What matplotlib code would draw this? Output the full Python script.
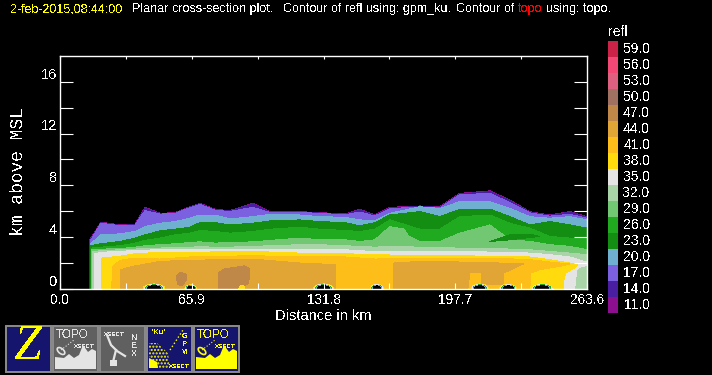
import matplotlib
matplotlib.use('Agg')
import matplotlib.pyplot as plt
from matplotlib.patches import Ellipse, Rectangle, Polygon

plt.rcParams['text.antialiased'] = False
plt.rcParams['font.family'] = ['Liberation Sans', 'DejaVu Sans']
plt.rcParams['hatch.color'] = 'yellow'

# colour table of the reflectivity scale, low to high
levels = [11, 14, 17, 20, 23, 26, 29, 32, 35, 38, 41, 44, 47, 50, 53, 56, 59]
colors = ['#8B0F8F', '#4A1EA0', '#7B60E0', '#6FAFD0', '#138E13', '#1FAA1F', '#72C872', '#A8D4A8',
          '#E4E4E4', '#FFDB0E', '#FDBE1A', '#E0A535', '#C08848', '#A07060', '#DD6080', '#F24875', '#CC2248']

# upper edge (km) of each band, at these distances (km)
dist = [15, 20.5, 30, 37.5, 42.5, 50, 57.5, 65, 70, 77.5, 85, 96.5, 105, 120, 130, 142.5, 150, 157.5,
        165, 180, 190, 200, 215, 225, 235, 245, 255, 263.6]
top11 = [3.72, 5.13, 4.92, 4.97, 6.28, 5.82, 5.87, 6.33, 6.59, 6.13, 6.03, 6.59, 5.95, 5.95, 5.87, 5.77, 6.13, 5.69,
         6.28, 6.39, 6.33, 7.36, 7.56, 6.85, 5.95, 5.69, 5.95, 5.56]
top14 = [3.69, 5.10, 4.89, 4.94, 6.22, 5.79, 5.84, 6.29, 6.55, 6.10, 6.00, 6.55, 5.92, 5.92, 5.84, 5.74, 6.09, 5.65,
         6.24, 6.35, 6.29, 7.32, 7.50, 6.80, 5.90, 5.65, 5.92, 5.52]
top17 = [3.66, 5.05, 4.86, 4.91, 6.02, 5.76, 5.81, 6.26, 6.50, 6.06, 5.96, 6.28, 5.88, 5.89, 5.81, 5.71, 5.92, 5.61,
         6.18, 6.31, 6.25, 7.26, 7.36, 6.66, 5.86, 5.60, 5.74, 5.44]
top20 = [3.46, 4.15, 4.23, 4.41, 4.79, 5.05, 5.18, 5.44, 5.69, 5.69, 5.38, 5.56, 5.74, 5.69, 5.56, 5.51, 5.31, 5.26,
         5.82, 6.33, 6.20, 6.72, 6.72, 6.20, 5.56, 5.44, 5.56, 5.31]
top23 = [3.31, 3.46, 3.64, 3.90, 4.15, 4.46, 4.59, 4.74, 5.10, 5.10, 4.92, 5.05, 5.23, 5.31, 5.18, 5.10, 4.85, 5.10,
         5.69, 5.95, 5.56, 6.13, 6.15, 5.56, 4.92, 5.18, 4.92, 4.67]
top26 = [3.13, 3.20, 3.31, 3.51, 3.72, 3.90, 4.15, 4.28, 4.49, 4.41, 4.28, 4.41, 4.59, 4.74, 4.59, 4.49, 4.41, 4.59,
         5.31, 4.59, 4.59, 5.56, 5.69, 5.05, 4.67, 4.03, 3.90, 3.90]
top29 = [3.00, 3.05, 3.08, 3.20, 3.31, 3.39, 3.46, 3.56, 3.61, 3.51, 3.56, 3.61, 3.72, 3.90, 3.77, 3.77, 3.64, 3.77,
         4.79, 3.64, 3.64, 4.28, 4.92, 3.77, 3.64, 3.39, 3.26, 3.00]
top32 = [2.87, 2.92, 3.00, 3.05, 3.10, 3.13, 3.18, 3.20, 3.23, 3.20, 3.20, 3.26, 3.31, 3.39, 3.39, 3.31, 3.26, 3.20,
         3.26, 3.20, 3.15, 3.13, 3.13, 3.05, 3.00, 2.87, 2.74, 2.62]
top35 = [2.69, 2.80, 2.87, 2.95, 2.97, 3.00, 3.00, 3.00, 3.00, 3.00, 3.00, 3.05, 3.05, 3.00, 3.00, 3.00, 2.92, 2.87,
         2.87, 2.87, 2.87, 2.87, 2.82, 2.80, 2.74, 2.62, 2.44, 2.03]
band_tops = [top11, top14, top17, top20, top23, top26, top29, top32, top35]
band_feet = [14.7, 14.9, 15.1, 15.3, 15.5, 15.7, 16.0, 16.3, 17.5]

# the warmer bands are closed shapes, not reaching the right edge
x38 = [20.8, 21, 30, 37.5, 50, 65, 85, 96.5, 120, 142.5, 157.5, 180, 200, 215, 235, 245, 255, 259, 258, 253, 251.7, 251.7]
y38 = [0, 2.36, 2.49, 2.69, 2.80, 2.80, 2.85, 2.87, 2.74, 2.69, 2.62, 2.54, 2.54, 2.49, 2.44, 2.23, 1.97, 1.90, 1.66, 1.20, 0.50, 0]
x41 = [25.8, 26.5, 30, 37.5, 50, 65, 96.5, 120, 142.5, 157.5, 180, 215, 235, 245, 255, 250, 240, 235.5, 235]
y41 = [0, 1.72, 2.18, 2.36, 2.28, 2.44, 2.54, 2.44, 2.44, 2.28, 2.36, 2.36, 2.23, 2.05, 1.90, 1.72, 1.46, 1.20, 0]
x44a = [30.3, 30.3, 36.7, 50, 65, 80, 96.5, 110, 120, 138, 138]
y44a = [0, 1.46, 1.72, 2.10, 2.18, 2.23, 2.28, 2.10, 1.97, 1.85, 0]
x44b = [166.7, 167, 180, 200, 215, 231.7, 222, 221.7, 211, 211, 205, 204]
y44b = [0, 1.97, 2.10, 2.05, 2.00, 1.90, 1.20, 0.30, 0.30, 1.20, 1.20, 0]
x47a = [58.5, 58.3, 60, 63, 63.3, 61, 59]
y47a = [0.6, 1.0, 1.25, 1.15, 0.7, 0.2, 0.3]
x47b = [79.5, 79.2, 82, 86, 92, 94.5, 95, 94, 90.5]
y47b = [0, 1.2, 1.5, 1.6, 1.75, 1.6, 1.0, 0.4, 0]
# a strip of 23 inside the 26 band, a plateau of 29 and the 32 corner at the right edge
x23s = [215, 225, 235, 240, 235, 225]
y23s = [3.64, 4.15, 4.20, 4.03, 3.95, 3.77]
x29p = [160, 165, 172, 176]
y29p = [3.70, 4.79, 4.60, 3.70]
x32c = [258, 259, 261, 263.6, 263.6]
y32c = [0, 1.4, 1.6, 1.7, 0]

# terrain poking through at the ground: centre, half width (km), height (km)
hill_x = [47, 65.4, 131.7, 158.5, 210, 224.2, 241.2]
hill_w = [5.4, 2.9, 5.0, 3.2, 4.2, 4.2, 5.5]
hill_h = [0.35, 0.28, 0.35, 0.33, 0.35, 0.33, 0.35]
hill_rings = ['#FFDB0E', '#E4E4E4', '#1FAA1F', '#6FAFD0', '#000000']

xtick_minor = [32.95, 98.85, 164.75, 230.65]
xtick_major = [0.0, 65.9, 131.8, 197.7, 263.6]

W, H = 712, 375
fig = plt.figure(figsize=(W / 100, H / 100), dpi=100, facecolor='black')
ax = fig.add_axes([60 / W, (H - 288.5) / H, 527 / W, 232.5 / H], facecolor='black')


def shape(xs, ys, color):
    ax.fill(xs, ys, color=color, lw=0, antialiased=False)


for color, top, foot in zip(colors, band_tops, band_feet):
    shape([foot, foot] + dist[1:] + [dist[-1]], [0] + top + [0], color)
shape(x29p, y29p, colors[6])
shape(x32c, y32c, colors[7])
shape(x38, y38, colors[9])
shape(x41, y41, colors[10])
shape(x44a, y44a, colors[11])
shape(x44b, y44b, colors[11])
shape(x47a, y47a, colors[12])
shape(x47b, y47b, colors[12])
shape(x23s, y23s, colors[4])

for cx, w, h in zip(hill_x, hill_w, hill_h):
    for n, ring in enumerate(hill_rings):
        scale = 1 - n * 0.1
        ax.add_patch(Ellipse((cx, 0), 2 * w * scale, 2 * h * scale, fc=ring, lw=0, antialiased=False))
# small yellow rim without a hole
ax.add_patch(Ellipse((91, 0), 3, 0.45, fc=colors[9], lw=0, antialiased=False))

ax.set_xlim(0, 263.6)
ax.set_ylim(0, 18)
for side in ax.spines.values():
    side.set_color('white')
    side.set_linewidth(1.0)

ax.set_xticks(xtick_major)
ax.set_xticklabels(['%.1f' % v for v in xtick_major], color='white', fontsize=9.8)
ax.set_xticks(xtick_minor, minor=True)
ax.set_yticks([0, 4, 8, 12, 16])
ax.set_yticklabels(['0', '4', '8', '12', '16'], color='white', fontsize=10.5, va='bottom')
ax.set_yticks([2, 6, 10, 14], minor=True)
ax.tick_params(axis='x', which='both', direction='in', length=4.3, width=0.8, color='white', pad=3.2)
ax.tick_params(axis='y', which='both', direction='in', length=9.4, width=0.8, color='white',
               left=True, right=True, pad=2)
top_axis = ax.secondary_xaxis('top')
top_axis.set_xticks(xtick_major + xtick_minor)
top_axis.set_xticklabels([])
top_axis.tick_params(direction='in', length=2.2, width=0.8, color='white')
top_axis.spines['top'].set_visible(False)
ax.set_xlabel('Distance in km', color='white', fontsize=10.5, labelpad=1.5)

# overlay in pixel coordinates for the title, colour key and icons
over = fig.add_axes([0, 0, 1, 1], facecolor='none')
over.set_xlim(0, W)
over.set_ylim(H, 0)
over.axis('off')

over.text(19, 172, 'km above MSL', rotation=90, color='white', family='Liberation Mono',
          fontsize=13, ha='center', va='center')

title_parts = [(10, '2-feb-2015,08:44:00', 'yellow'), (132, 'Planar cross-section plot.', 'white'),
               (283, 'Contour of refl using: gpm_ku.', 'white'), (456, 'Contour of', 'white'),
               (518, 'topo', 'red'), (546, 'using: topo.', 'white')]
for px, part, col in title_parts:
    over.text(px, 9, part, color=col, fontsize=9, ha='left', va='center')

# colour key
over.text(608, 32, 'refl', color='white', fontsize=10, ha='left', va='center')
key_ax = fig.add_axes([608 / W, (H - 313) / H, 10 / W, 272 / H], facecolor='black')
key_ax.bar([0] * len(levels), [1] * len(levels), bottom=list(range(len(levels))), width=1, color=colors,
           antialiased=False, lw=0)
key_ax.set_xlim(-0.5, 0.5)
key_ax.set_ylim(0, len(levels))
key_ax.axis('off')
for i, lev in enumerate(levels):
    over.text(650, 313 - 16 * i - 8, '%.1f' % lev, color='white', fontsize=10, ha='right', va='center')

# icon row
icon_blue = '#15156E'
icon_gray = '#606060'
ridge = [(3, 44), (3, 32), (12, 33), (17, 29), (22, 33), (27, 30), (31, 20), (36, 27), (40, 24), (44, 26), (44, 44)]


def icon(x0, bg):
    over.add_patch(Rectangle((x0 + 0.5, 325.5), 45, 46, fc=bg, ec='#8C8C8C', lw=1.4))


def put(x0, dx, dy, s, col, size, **kw):
    over.text(x0 + dx, 325 + dy, s, color=col, fontsize=size, ha='center', va='center', **kw)


def dish(x0, col):
    over.add_patch(Ellipse((x0 + 9, 351), 9, 5, angle=40, fc='none', ec=col, lw=1.2))
    over.plot([x0 + 9, x0 + 22], [350, 340], color=col, lw=0.8, ls=':')


icon(5, icon_blue)
put(5, 23, 22, 'Z', 'yellow', 36, family='Liberation Serif', style='italic')

icon(52, icon_gray)
put(52, 20, 10, 'TOPO', '#E4E4E4', 8.5)
put(52, 32, 21, 'XSECT', '#E4E4E4', 4.5, weight='bold')
over.add_patch(Polygon([(52 + a, 325 + b) for a, b in ridge], fc='#E4E4E4', lw=0))
dish(52, '#E4E4E4')

icon(99, icon_gray)
put(99, 15, 9, 'XSECT', '#E4E4E4', 4.5, weight='bold')
put(99, 35, 13, 'N', '#E4E4E4', 6.5)
put(99, 35, 21, 'E', '#E4E4E4', 6.5)
put(99, 35, 29, 'X', '#E4E4E4', 6.5)
over.plot([107, 111, 117, 125], [335, 345, 351, 356], color='#E4E4E4', lw=1.6)
over.plot([116, 113], [350, 362], color='#E4E4E4', lw=1.6)
over.add_patch(Rectangle((110, 360), 7, 6, fc='#E4E4E4', lw=0))

icon(146, icon_blue)
put(146, 12, 8, "*Ku'", 'yellow', 6)
put(146, 39, 12, 'G', 'yellow', 5.5, weight='bold')
put(146, 39, 20, 'P', 'yellow', 5.5, weight='bold')
put(146, 39, 28, 'M', 'yellow', 5.5, weight='bold')
put(146, 33, 41, 'XSECT', 'yellow', 4.5, weight='bold')
over.add_patch(Polygon([(149, 368), (149, 343), (157, 343), (168, 353), (170, 368)], fc='none', ec='yellow',
                       hatch='.....', lw=0))
over.add_patch(Polygon([(149, 368), (149, 358), (157, 362), (158, 368)], fc='yellow', lw=0))
over.plot([170, 183], [350, 330], color='yellow', lw=1, ls=':')

icon(193, icon_blue)
put(193, 20, 10, 'TOPO', 'yellow', 8.5)
put(193, 32, 21, 'XSECT', 'yellow', 4.5, weight='bold')
over.add_patch(Polygon([(193 + a, 325 + b) for a, b in ridge], fc='yellow', lw=0))
dish(193, 'yellow')

fig.savefig('out.png', dpi=100, facecolor='black')
